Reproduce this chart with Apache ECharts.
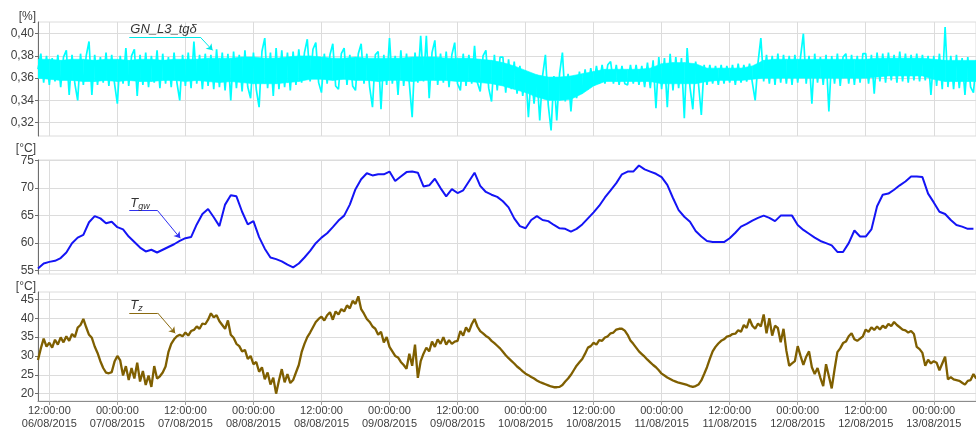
<!DOCTYPE html>
<html>
<head>
<meta charset="utf-8">
<script src="https://cdn.jsdelivr.net/npm/echarts@6/dist/echarts.min.js"></script>
<style>
  html, body { margin: 0; padding: 0; background: #fff; }
  #chart { width: 976px; height: 430px; }
</style>
</head>
<body>
<div id="chart"></div>
<script>
// Time is counted in hours from 06/08/2015 00:00.
const START_HOUR = 10;      // first sample: 06/08/2015 10:00
const END_HOUR = 175.45;    // right edge of the plots
const TGD_STEP = 0.5;       // hours between loss-factor samples
const BAND_STEP = 2;        // hours between loss-factor scatter-band readings
const TGW_STEP = 1;         // hours between winding-temperature samples
const TZ_STEP = 0.5;        // hours between ambient-temperature samples

// Tick positions on the shared time axis (every 12 h)
const tickHours = [12, 24, 36, 48, 60, 72, 84, 96, 108, 120, 132, 144, 156, 168];
const tgdTicks = [0.32, 0.34, 0.36, 0.38, 0.40];
const tgwTicks = [55, 60, 65, 70, 75];
const tzTicks = [20, 25, 30, 35, 40, 45];

// GN_L3 dielectric loss factor tgδ [%]
const tgd = [
  0.368,0.382,0.356,0.380,0.354,0.378,0.357,0.381,0.352,0.379,
  0.385,0.345,0.381,0.355,0.340,0.382,0.354,0.380,0.393,0.345,
  0.381,0.354,0.379,0.356,0.383,0.353,0.381,0.355,0.337,0.380,
  0.355,0.387,0.353,0.380,0.386,0.344,0.381,0.354,0.383,0.352,
  0.380,0.356,0.385,0.351,0.382,0.355,0.379,0.352,0.383,0.356,
  0.340,0.381,0.353,0.383,0.351,0.393,0.355,0.381,0.350,0.382,
  0.353,0.381,0.350,0.386,0.352,0.383,0.349,0.382,0.340,0.384,
  0.351,0.381,0.348,0.385,0.352,0.342,0.383,0.350,0.334,0.384,
  0.396,0.351,0.383,0.344,0.387,0.350,0.385,0.352,0.383,0.349,
  0.384,0.354,0.386,0.356,0.383,0.395,0.357,0.386,0.392,0.356,
  0.347,0.382,0.355,0.381,0.391,0.353,0.350,0.382,0.387,0.354,
  0.381,0.353,0.349,0.382,0.391,0.355,0.382,0.352,0.334,0.381,
  0.384,0.332,0.381,0.354,0.396,0.355,0.380,0.345,0.385,0.353,
  0.382,0.355,0.325,0.383,0.356,0.398,0.357,0.398,0.342,0.383,
  0.394,0.354,0.382,0.356,0.384,0.352,0.381,0.392,0.355,0.349,
  0.382,0.353,0.381,0.355,0.389,0.356,0.348,0.380,0.385,0.351,
  0.339,0.381,0.349,0.379,0.379,0.347,0.377,0.350,0.375,0.346,
  0.371,0.344,0.366,0.325,0.364,0.337,0.363,0.322,0.362,0.381,
  0.336,0.313,0.362,0.322,0.364,0.383,0.339,0.364,0.330,0.362,
  0.342,0.366,0.347,0.368,0.350,0.369,0.353,0.371,0.355,0.372,
  0.355,0.372,0.375,0.355,0.372,0.354,0.371,0.355,0.354,0.372,
  0.355,0.372,0.354,0.371,0.352,0.374,0.351,0.376,0.333,0.379,
  0.350,0.378,0.334,0.382,0.349,0.379,0.351,0.378,0.324,0.387,
  0.352,0.332,0.375,0.355,0.327,0.372,0.354,0.372,0.355,0.371,
  0.354,0.372,0.355,0.371,0.356,0.372,0.354,0.373,0.356,0.372,
  0.357,0.373,0.356,0.340,0.374,0.396,0.357,0.381,0.355,0.380,
  0.354,0.382,0.356,0.381,0.355,0.380,0.354,0.381,0.356,0.379,
  0.400,0.355,0.380,0.337,0.382,0.356,0.379,0.354,0.381,0.330,
  0.380,0.355,0.382,0.353,0.379,0.382,0.355,0.381,0.354,0.380,
  0.356,0.382,0.382,0.355,0.381,0.346,0.383,0.357,0.382,0.356,
  0.383,0.358,0.381,0.356,0.384,0.357,0.382,0.356,0.381,0.358,
  0.382,0.357,0.381,0.358,0.380,0.345,0.380,0.353,0.382,0.350,
  0.406,0.352,0.380,0.350,0.381,0.351,0.378,0.345,0.379,0.352,
  0.347,0.376
];

// Lower and upper edge of the dense tgδ scatter band [%], every 2 h
const tgdBandLow = [
  0.360,0.359,0.358,0.358,0.357,0.357,0.358,0.357,0.358,0.357,
  0.357,0.358,0.358,0.357,0.358,0.357,0.356,0.357,0.356,0.355,
  0.355,0.355,0.356,0.357,0.359,0.359,0.358,0.359,0.358,0.358,
  0.357,0.358,0.358,0.357,0.358,0.358,0.358,0.357,0.357,0.356,
  0.355,0.353,0.350,0.347,0.343,0.340,0.340,0.341,0.346,0.353,
  0.357,0.357,0.357,0.357,0.357,0.355,0.355,0.355,0.355,0.357,
  0.358,0.358,0.358,0.359,0.360,0.360,0.360,0.360,0.360,0.360,
  0.360,0.360,0.360,0.360,0.361,0.362,0.362,0.362,0.362,0.359,
  0.357,0.357,0.357,0.357
];
const tgdBandHigh = [
  0.377,0.377,0.376,0.377,0.377,0.376,0.377,0.377,0.376,0.377,
  0.377,0.376,0.377,0.377,0.377,0.378,0.378,0.378,0.379,0.379,
  0.378,0.378,0.379,0.380,0.380,0.379,0.378,0.378,0.379,0.378,
  0.378,0.378,0.378,0.379,0.379,0.379,0.378,0.378,0.378,0.377,
  0.376,0.374,0.371,0.367,0.363,0.361,0.361,0.362,0.364,0.366,
  0.368,0.368,0.368,0.368,0.369,0.373,0.374,0.374,0.373,0.369,
  0.369,0.369,0.369,0.371,0.376,0.377,0.377,0.377,0.377,0.377,
  0.377,0.377,0.377,0.377,0.378,0.378,0.378,0.378,0.378,0.377,
  0.376,0.376,0.376,0.376
];

// Winding temperature Tgw [°C], hourly
const tgw = [
  55.4,56.3,56.6,56.8,57.3,58.3,60.0,61.0,61.5,63.8,
  64.9,64.5,63.6,63.9,62.9,62.5,61.2,60.2,59.2,58.5,
  58.8,58.3,58.8,59.3,59.8,60.4,60.9,61.1,63.4,65.3,
  66.2,64.7,63.1,67.0,68.7,68.5,65.7,63.4,64.0,61.1,
  59.0,57.4,57.1,56.7,56.1,55.6,56.3,57.4,58.6,60.0,
  61.0,61.8,62.9,64.1,65.0,67.0,69.8,71.6,72.7,72.3,
  72.5,72.5,73.0,71.3,72.1,72.9,73.0,72.8,70.3,70.5,
  71.7,70.0,68.5,69.8,69.1,69.6,71.2,72.8,70.4,69.3,
  68.8,68.4,67.6,66.5,64.5,63.1,62.7,64.2,64.9,64.2,
  64.0,63.3,62.7,62.6,62.1,62.6,63.4,64.5,65.6,66.8,
  68.3,69.6,70.9,72.5,73.0,73.0,74.1,73.4,73.0,72.6,
  72.0,70.6,68.2,66.0,64.8,63.9,62.2,61.2,60.4,60.2,
  60.2,60.2,60.9,61.9,63.0,63.5,64.1,64.6,65.0,64.6,
  64.0,65.0,65.0,65.0,63.3,62.4,61.7,61.0,60.4,60.0,
  59.6,58.4,58.4,60.0,62.3,61.2,61.2,62.5,66.7,68.8,
  69.0,69.7,70.5,71.2,72.1,72.1,72.0,69.0,67.4,65.7,
  65.3,64.2,63.3,63.0,62.6,62.6
];

// Ambient temperature Tz [°C], every 30 min (one line per 12 h)
const tz = [
  28.9,32.0,34.6,32.5,
  33.5,32.2,34.3,33.0,34.9,33.6,35.2,34.0,35.8,35.0,37.5,38.2,39.8,37.6,35.6,34.8,32.5,30.8,28.6,26.8,25.6,25.4,25.7,28.5,
  30.0,28.8,24.8,27.3,23.6,26.8,24.0,28.2,23.2,26.0,22.3,24.8,21.8,27.3,24.0,24.6,25.6,27.2,31.0,33.2,34.4,35.2,35.6,35.2,
  36.2,35.4,36.6,36.9,37.8,37.2,38.6,38.4,39.6,41.3,40.2,40.8,39.2,38.2,37.2,39.4,35.6,34.8,33.2,32.6,31.2,31.6,29.2,30.0,
  27.8,28.4,25.8,27.0,23.8,25.6,22.4,24.2,20.0,23.5,26.5,23.0,25.2,22.8,23.6,25.6,27.6,31.0,33.2,35.0,36.2,37.6,39.0,39.8,
  40.4,39.4,40.8,41.6,39.6,41.8,41.0,42.4,41.8,43.4,42.6,44.6,43.8,45.8,42.4,41.2,39.8,39.0,37.8,37.2,35.6,36.4,33.6,35.0,
  32.4,31.2,30.0,29.6,28.4,27.6,26.6,30.6,27.4,33.0,24.2,28.6,30.6,32.2,31.2,33.8,32.4,34.4,33.2,35.0,33.0,34.2,33.2,33.8,
  34.0,36.6,35.4,37.6,36.4,38.4,39.8,37.8,36.6,36.0,35.3,34.8,34.0,33.4,32.7,32.0,31.1,30.2,29.4,28.7,28.0,27.2,26.6,25.9,
  25.3,24.9,24.4,24.0,23.5,23.1,22.8,22.5,22.2,21.9,21.7,21.7,21.8,22.3,23.2,24.0,25.0,26.2,27.4,28.3,29.2,30.6,32.2,32.6,
  33.5,33.0,34.2,34.0,34.9,35.2,36.0,36.2,37.0,37.2,37.2,36.7,35.6,34.1,33.2,32.2,31.2,30.5,29.8,29.0,28.3,27.6,27.0,26.2,
  25.3,24.8,24.3,23.9,23.5,23.2,22.9,22.7,22.5,22.3,22.0,21.8,22.0,22.4,23.5,25.2,27.0,29.2,31.2,32.4,33.3,34.0,34.4,35.1,
  35.3,35.8,35.9,36.8,36.4,38.2,37.4,39.8,38.0,37.2,38.6,37.8,41.0,36.0,40.0,35.4,38.0,37.4,33.6,37.2,31.4,27.4,28.0,28.6,
  32.6,30.0,27.6,29.8,31.2,27.0,25.2,26.8,24.2,22.0,27.8,24.6,21.4,26.4,31.0,32.0,33.4,33.8,35.2,36.0,34.4,34.0,34.6,35.2,
  37.0,36.4,37.6,36.9,37.8,37.0,38.0,37.4,38.5,37.9,39.0,38.2,37.6,37.0,36.8,36.2,36.6,35.8,32.4,31.8,30.8,27.4,29.0,28.0,
  28.6,28.2,26.2,28.0,29.8,23.8,24.4,23.8,23.6,23.4,22.9,22.4,23.4,23.6,25.2,24.0
];

const FONT = '"Liberation Sans", Arial, sans-serif';
const LABEL_COLOR = '#404040';
const GRID_COLOR = '#dcdcdc';
const CYAN = '#00ffff';

function pairs(values, step) {
  return values.map((v, i) => [START_HOUR + i * step, v]);
}

function timeLabel(h) {
  const day = 6 + Math.floor(h / 24);
  const hh = h % 24;
  return String(hh).padStart(2, '0') + ':00:00\n' + String(day).padStart(2, '0') + '/08/2015';
}

const panels = [
  { top: 22,  min: 0.308, max: 0.4105, ticks: tgdTicks, unit: '[%]',  nameGap: -1, fmt: v => v.toFixed(2).replace('.', ',') },
  { top: 160, min: 54.4,  max: 75.1,   ticks: tgwTicks, unit: '[°C]', nameGap: 4,  fmt: v => String(v) },
  { top: 292, min: 18.05, max: 46.95,  ticks: tzTicks,  unit: '[°C]', nameGap: -1, fmt: v => String(v) }
];

const grids = panels.map(p => ({
  left: 38, right: 0, top: p.top, height: 114,
  show: true, borderColor: GRID_COLOR, borderWidth: 1, backgroundColor: 'transparent'
}));

const xAxes = panels.map((p, i) => {
  const last = i === panels.length - 1;
  return {
    type: 'value', gridIndex: i, min: START_HOUR, max: END_HOUR,
    axisLine: { show: last, lineStyle: { color: '#8c8c8c', width: 1 } },
    axisTick: { show: last, length: 4, customValues: tickHours, lineStyle: { color: '#a0a0a0' } },
    axisLabel: {
      show: last, customValues: tickHours, formatter: timeLabel,
      fontFamily: FONT, fontSize: 11, color: LABEL_COLOR, lineHeight: 12.5, margin: 4
    },
    splitLine: { show: true, lineStyle: { color: GRID_COLOR, width: 1 } }
  };
});

const yAxes = panels.map((p, i) => ({
  type: 'value', gridIndex: i, min: p.min, max: p.max,
  name: p.unit, nameLocation: 'end', nameGap: p.nameGap,
  nameTextStyle: { fontFamily: FONT, fontSize: 12, color: LABEL_COLOR, align: 'right', padding: [0, 2, 0, 0] },
  axisLine: { show: true, lineStyle: { color: '#6e6e6e', width: 1 } },
  axisTick: { show: true, length: 3, customValues: p.ticks, lineStyle: { color: '#6e6e6e' } },
  axisLabel: {
    customValues: p.ticks, formatter: p.fmt,
    fontFamily: FONT, fontSize: 12, color: LABEL_COLOR, margin: 4
  },
  splitLine: { show: true, lineStyle: { color: GRID_COLOR, width: 1 } }
}));

// Leader line with an underlined caption and an arrow pointing at the curve
function leader(color, caption, rich, p0, p1, p2) {
  return {
    silent: true, animation: false,
    symbol: ['none', 'none'],
    lineStyle: { color: color, width: 1, type: 'solid' },
    emphasis: { disabled: true },
    label: { show: false },
    data: [
      [
        { coord: p0, symbol: 'none',
          label: { show: true, position: 'insideStartTop', distance: 1, formatter: caption,
                   fontFamily: FONT, fontSize: 13, fontStyle: 'italic', color: '#333', rich: rich } },
        { coord: p1, symbol: 'none' }
      ],
      [
        { coord: p1, symbol: 'none', label: { show: false } },
        { coord: p2, symbol: 'arrow', symbolSize: 6 }
      ]
    ]
  };
}

const subRich = {
  t: { fontFamily: FONT, fontSize: 13, fontStyle: 'italic', color: '#333', lineHeight: 13, verticalAlign: 'top' },
  s: { fontFamily: FONT, fontSize: 9, fontStyle: 'italic', color: '#333', lineHeight: 9, padding: [7, 0, 0, 0] }
};

// [time, lower edge, upper edge] rows for the scatter band
const bandRows = tgdBandLow.map((lo, i) => [START_HOUR + i * BAND_STEP, lo, tgdBandHigh[i]]);

// Fill the band between consecutive readings as a quadrilateral
function renderBand(params, api) {
  const i = params.dataIndex;
  if (i >= bandRows.length - 1) return null;
  const a = bandRows[i], b = bandRows[i + 1];
  const pts = [
    api.coord([a[0], a[1]]), api.coord([b[0], b[1]]),
    api.coord([b[0], b[2]]), api.coord([a[0], a[2]])
  ];
  return {
    type: 'polygon',
    shape: { points: pts },
    style: { fill: CYAN, stroke: CYAN, lineWidth: 0.6 }
  };
}

const option = {
  animation: false,
  backgroundColor: '#fff',
  grid: grids,
  xAxis: xAxes,
  yAxis: yAxes,
  series: [
    {
      type: 'custom', xAxisIndex: 0, yAxisIndex: 0, silent: true, clip: true,
      data: bandRows, encode: { x: 0, y: [1, 2] },
      renderItem: renderBand
    },
    {
      name: 'GN_L3_tgδ', type: 'line', xAxisIndex: 0, yAxisIndex: 0,
      data: pairs(tgd, TGD_STEP), showSymbol: false, symbol: 'none',
      lineStyle: { color: CYAN, width: 1.7 }, itemStyle: { color: CYAN },
      markLine: leader('#00e8e8', 'GN_L3_tgδ', null, [26.1, 0.397], [38.6, 0.397], [40.8, 0.385])
    },
    {
      name: 'Tgw', type: 'line', xAxisIndex: 1, yAxisIndex: 1,
      data: pairs(tgw, TGW_STEP), showSymbol: false, symbol: 'none',
      lineStyle: { color: '#1414f5', width: 2 }, itemStyle: { color: '#1414f5' },
      markLine: leader('#3030f0', '{t|T}{s|gw}', subRich, [26.1, 65.9], [31.1, 65.9], [35.1, 60.9])
    },
    {
      name: 'Tz', type: 'line', xAxisIndex: 2, yAxisIndex: 2,
      data: pairs(tz, TZ_STEP), showSymbol: false, symbol: 'none',
      lineStyle: { color: '#7f5f00', width: 2.3 }, itemStyle: { color: '#7f5f00' },
      markLine: leader('#8a6a10', '{t|T}{s|z}', subRich, [26.1, 41.4], [31.1, 41.4], [34.2, 36.0])
    }
  ]
};

const chart = echarts.init(document.getElementById('chart'), null, { renderer: 'canvas' });
chart.setOption(option);
</script>
</body>
</html>
